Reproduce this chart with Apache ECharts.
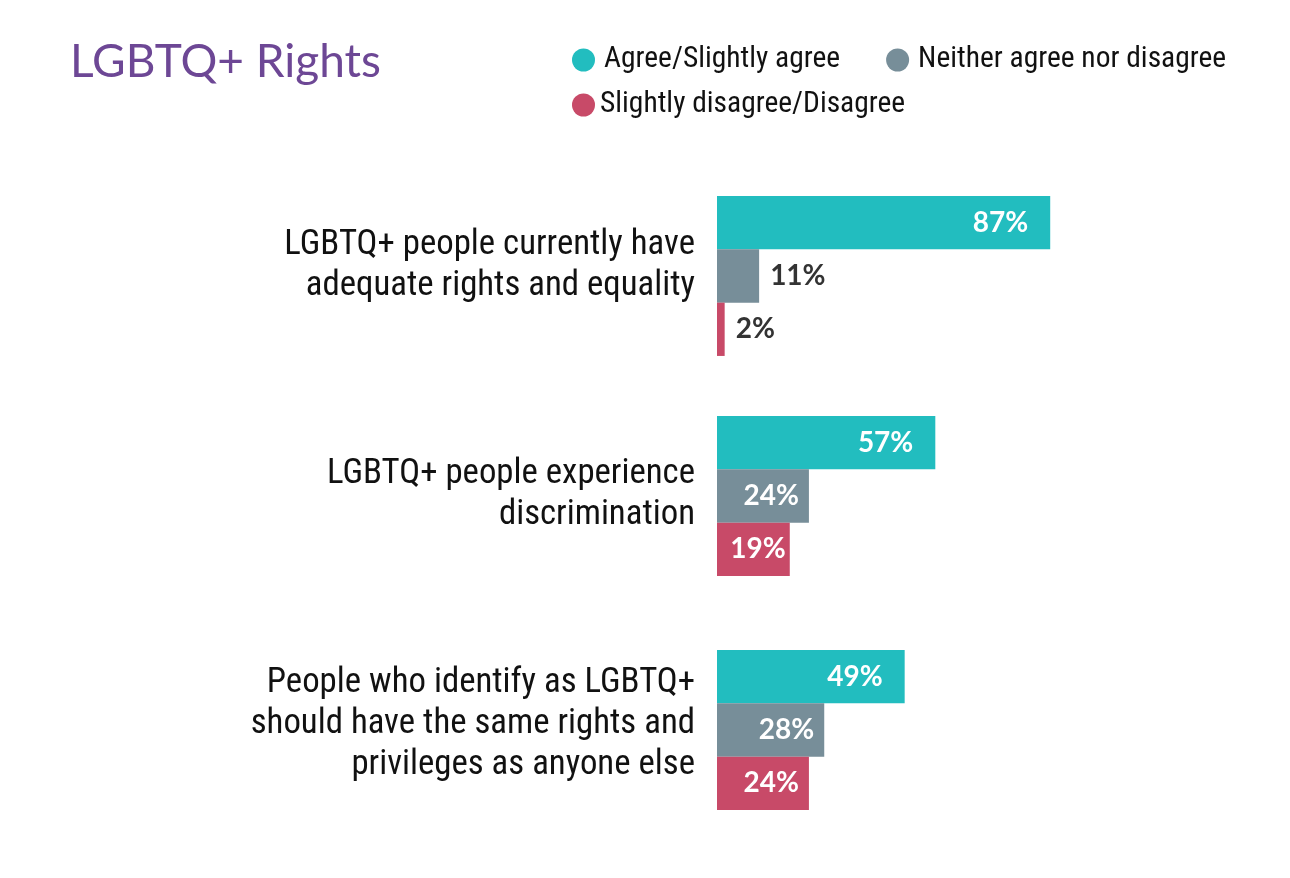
<!DOCTYPE html>
<html>
<head>
<meta charset="utf-8">
<script src="https://cdn.jsdelivr.net/npm/echarts@6/dist/echarts.min.js"></script>
<style>html,body{margin:0;padding:0;background:#fff}#c{width:1290px;height:878px}</style>
</head>
<body>
<div id="c"></div>
<script>
const categories = [
  "LGBTQ+ people currently have\nadequate rights and equality",
  "LGBTQ+ people experience\ndiscrimination",
  "People who identify as LGBTQ+\nshould have the same rights and\nprivileges as anyone else"
];
const seriesNames = ["Agree/Slightly agree", "Neither agree nor disagree", "Slightly disagree/Disagree"];
const agree = [87, 57, 49];
const neither = [11, 24, 28];
const disagree = [2, 19, 24];

const colors = ["#22BDBF", "#778E99", "#C84A68"];
const values = [agree, neither, disagree];
const condensed = '"Roboto Condensed", "Liberation Sans Narrow", "DejaVu Sans Condensed", "Arial Narrow", sans-serif';
const gridTops = [196, 416, 650];
const labelLift = [20, 2, 12];

function insideDistance(v) {
  if (v < 20) return 4;
  if (v < 30) return 10;
  return 22;
}

const grids = [], xAxes = [], yAxes = [], series = [];
categories.forEach((cat, g) => {
  grids.push({ left: 717, width: 383, top: gridTops[g], height: 160 });
  xAxes.push({ type: 'value', gridIndex: g, min: 0, max: 100, show: false });
  yAxes.push({
    type: 'category', gridIndex: g, data: [cat], inverse: true,
    axisLine: { show: false }, axisTick: { show: false },
    axisLabel: {
      margin: 22, fontSize: 34.8, lineHeight: 41, color: '#111',
      fontFamily: condensed, align: 'right',
      formatter: (v) => v + '\n{s|}',
      rich: { s: { lineHeight: labelLift[g], fontSize: 1 } }
    }
  });
  seriesNames.forEach((name, s) => {
    const v = values[s][g];
    const outside = v < 15;
    series.push({
      type: 'bar', name: name, xAxisIndex: g, yAxisIndex: g,
      barWidth: 53.3, barGap: '0%', barCategoryGap: '0%',
      itemStyle: { color: colors[s] },
      data: [{
        value: v,
        label: {
          show: true,
          position: outside ? 'right' : 'insideRight',
          distance: outside ? 11 : insideDistance(v),
          formatter: '{c}%',
          color: outside ? '#333' : '#fff',
          fontSize: 28, fontWeight: 'bold', fontFamily: 'Lato, "Open Sans", sans-serif'
        }
      }]
    });
  });
});

const chart = echarts.init(document.getElementById('c'), null, { renderer: 'canvas' });
chart.setOption({
  animation: false,
  color: colors,
  title: {
    text: 'LGBTQ+ Rights', left: 65, top: 34,
    textStyle: { fontSize: 46, fontWeight: 'normal', color: '#6D4795', fontFamily: 'Lato, sans-serif' }
  },
  legend: [
    {
      data: [seriesNames[0], seriesNames[1]], left: 567, top: 40,
      icon: 'circle', itemWidth: 23, itemHeight: 23, itemGap: 46,
      textStyle: { fontSize: 29.5, color: '#111', fontFamily: condensed, padding: [0, 0, 0, 4] }
    },
    {
      data: [seriesNames[2]], left: 567, top: 85,
      icon: 'circle', itemWidth: 23, itemHeight: 23,
      textStyle: { fontSize: 29.5, color: '#111', fontFamily: condensed }
    }
  ],
  grid: grids, xAxis: xAxes, yAxis: yAxes, series: series
});
</script>
</body>
</html>
